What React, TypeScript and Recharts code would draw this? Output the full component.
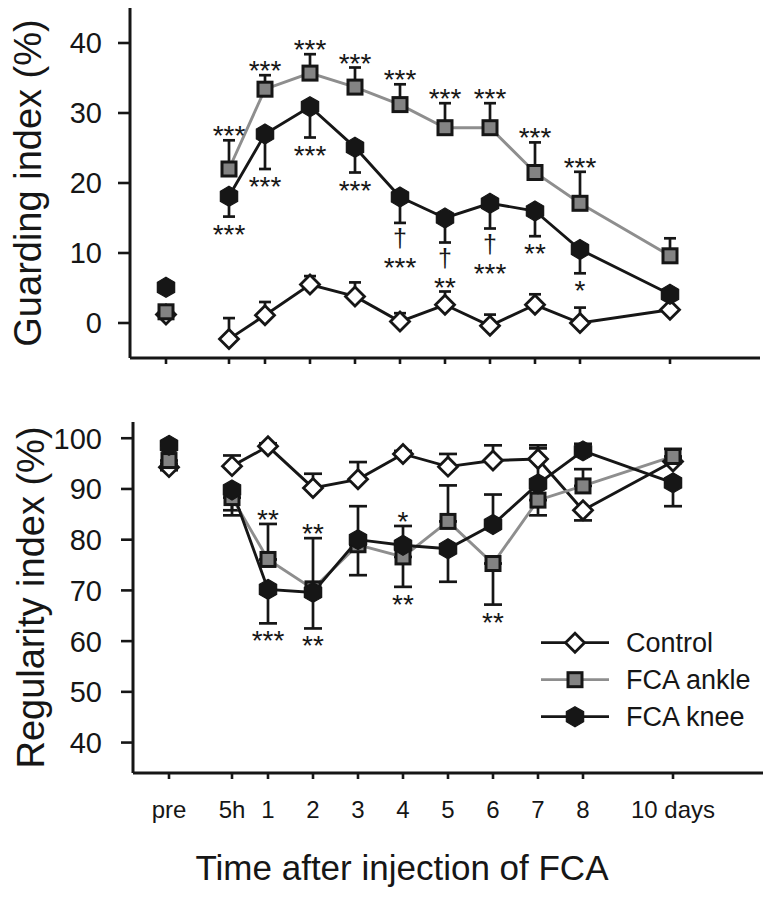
import React from 'react';
import { ComposedChart, Line, Scatter, XAxis, YAxis, ErrorBar, Legend, Label } from 'recharts';

const FONT = '"Liberation Sans", Arial, Helvetica, sans-serif';
const INK = '#161616';
const GREY_LINE = '#8e8e8e';
const GREY_FILL = '#838383';

// Time points (days after FCA injection); "pre" sits left of 5h
const timePoints = [-1.2, 0.2, 1, 2, 3, 4, 5, 6, 7, 8, 10];
const timeLabels = ['pre', '5h', '1', '2', '3', '4', '5', '6', '7', '8', '10 days'];

// ---- Guarding index (%) ----
const guardControl = [1.2, -2.3, 1.1, 5.5, 3.8, 0.2, 2.6, -0.4, 2.6, 0.0, 1.9];
const guardControlErrLow = [0, 0, 0, 0, 0, 0, 0, 0, 0, 0, 0];
const guardControlErrHigh = [0, 3.0, 1.9, 1.2, 2.0, 1.2, 1.9, 1.6, 1.5, 2.2, 0.6];
const guardAnkle = [1.6, 22.0, 33.4, 35.7, 33.7, 31.2, 27.9, 27.9, 21.5, 17.1, 9.6];
const guardAnkleErrLow = [0, 0, 0, 0, 0, 0, 0, 0, 0, 0, 0];
const guardAnkleErrHigh = [0.6, 4.1, 2.0, 2.7, 2.8, 2.9, 3.5, 3.5, 4.3, 4.5, 2.5];
const guardKnee = [5.1, 18.1, 27.0, 30.9, 25.1, 18.0, 15.0, 17.1, 16.0, 10.5, 4.1];
const guardKneeErrLow = [0.6, 2.9, 5.0, 4.4, 3.6, 3.7, 3.5, 3.6, 3.6, 3.4, 0];
const guardKneeErrHigh = [0, 0, 0, 0, 0, 0, 0, 0, 0, 0, 0];
const guardAnkleAbove = ['', '***', '***', '***', '***', '***', '***', '***', '***', '***', ''];
const guardKneeBelow = ['', '***', '***', '***', '***', '†|***', '†|**', '†|***', '**', '*', ''];
const guardTicks = [0, 10, 20, 30, 40];

// ---- Regularity index (%) ----
const regControl = [94.3, 94.5, 98.4, 90.2, 91.9, 96.9, 94.4, 95.6, 95.9, 85.8, 95.4];
const regControlErrLow = [0.6, 0, 0, 0, 0, 0, 0, 0, 0, 2.0, 0];
const regControlErrHigh = [0, 2.1, 0.6, 2.8, 3.4, 0.6, 2.5, 3.0, 2.7, 0, 0.6];
const regAnkle = [95.6, 88.3, 76.1, 70.3, 79.0, 76.6, 83.6, 75.3, 87.8, 90.6, 96.4];
const regAnkleErrLow = [0.6, 2.5, 0, 0, 6.0, 5.9, 0, 8.1, 3.0, 0, 0];
const regAnkleErrHigh = [0, 0, 7.0, 10.0, 0, 0, 7.1, 0, 0, 3.3, 1.5];
const regKnee = [98.6, 89.8, 70.2, 69.6, 80.0, 78.9, 78.2, 83.0, 91.0, 97.5, 91.2];
const regKneeErrLow = [0, 5.0, 6.7, 7.1, 0, 0, 6.5, 0, 0, 0, 4.6];
const regKneeErrHigh = [0.6, 0, 0, 0, 6.6, 3.8, 0, 5.9, 7.0, 1.4, 0];
const regAnkleAbove = ['', '', '**', '**', '', '', '', '', '', '', ''];
const regAnkleBelow = ['', '', '', '', '', '**', '', '**', '', '', ''];
const regKneeAbove = ['', '', '', '', '', '*', '', '', '', '', ''];
const regKneeBelow = ['', '', '***', '**', '', '', '', '', '', '', ''];
const regTicks = [40, 50, 60, 70, 80, 90, 100];

const SERIES = [
  { key: 'control', name: 'Control', line: INK, marker: 'diamond' },
  { key: 'ankle', name: 'FCA ankle', line: GREY_LINE, marker: 'square' },
  { key: 'knee', name: 'FCA knee', line: INK, marker: 'hex' },
];

type S = { values: number[]; low: number[]; high: number[] };

function makeRows(groups: Record<string, S>) {
  return timePoints.map((t, i) => {
    const row: any = { t };
    Object.keys(groups).forEach((k) => {
      const g = groups[k];
      const isPre = i === 0;
      const err = [g.low[i], g.high[i]];
      const hasErr = err[0] > 0 || err[1] > 0;
      row[k] = isPre ? null : g.values[i];
      row[k + 'Err'] = !isPre && hasErr ? err : null;
      row[k + 'Pre'] = isPre ? g.values[i] : null;
      row[k + 'PreErr'] = isPre && hasErr ? err : null;
    });
    return row;
  });
}

function makeMarks(g: S, texts: string[], side: 'above' | 'below') {
  return timePoints
    .map((t, i) => ({ t, y: side === 'above' ? g.values[i] + g.high[i] : g.values[i] - g.low[i], text: texts[i] }))
    .filter((d) => d.text);
}

const gC = { values: guardControl, low: guardControlErrLow, high: guardControlErrHigh };
const gA = { values: guardAnkle, low: guardAnkleErrLow, high: guardAnkleErrHigh };
const gK = { values: guardKnee, low: guardKneeErrLow, high: guardKneeErrHigh };
const rC = { values: regControl, low: regControlErrLow, high: regControlErrHigh };
const rA = { values: regAnkle, low: regAnkleErrLow, high: regAnkleErrHigh };
const rK = { values: regKnee, low: regKneeErrLow, high: regKneeErrHigh };

const guardRows = makeRows({ control: gC, ankle: gA, knee: gK });
const regRows = makeRows({ control: rC, ankle: rA, knee: rK });

const guardMarks = [
  { side: 'above', data: makeMarks(gA, guardAnkleAbove, 'above') },
  { side: 'below', data: makeMarks(gK, guardKneeBelow, 'below') },
];
const regMarks = [
  { side: 'above', data: makeMarks(rA, regAnkleAbove, 'above') },
  { side: 'below', data: makeMarks(rA, regAnkleBelow, 'below') },
  { side: 'above', data: makeMarks(rK, regKneeAbove, 'above') },
  { side: 'below', data: makeMarks(rK, regKneeBelow, 'below') },
];

const Marker = ({ kind, cx, cy }: { kind: string; cx: number; cy: number }) => {
  if (kind === 'diamond') {
    const r = 9.5;
    return (
      <path d={`M${cx},${cy - r}L${cx + r},${cy}L${cx},${cy + r}L${cx - r},${cy}Z`} fill="#fff" stroke={INK} strokeWidth={2.8} />
    );
  }
  if (kind === 'square') {
    const h = 7;
    return <rect x={cx - h} y={cy - h} width={2 * h} height={2 * h} fill={GREY_FILL} stroke={INK} strokeWidth={3} />;
  }
  const R = 10;
  const w = R * 0.866;
  return (
    <path
      d={`M${cx},${cy - R}L${cx + w},${cy - R / 2}L${cx + w},${cy + R / 2}L${cx},${cy + R}L${cx - w},${cy + R / 2}L${cx - w},${cy - R / 2}Z`}
      fill={INK}
      stroke={INK}
      strokeWidth={1.2}
    />
  );
};

const dotFor = (kind: string) => (props: any) => {
  const { cx, cy, index } = props;
  if (cx == null || cy == null || Number.isNaN(cx) || Number.isNaN(cy)) return <g key={`e-${kind}-${index}`} />;
  return (
    <g key={`${kind}-${index}`}>
      <Marker kind={kind} cx={cx} cy={cy} />
    </g>
  );
};

const AboveMark = (props: any) => {
  const { cx, cy, payload } = props;
  return (
    <text x={cx} y={cy + 5} textAnchor="middle" fontSize={28} fontFamily={FONT} fill={INK}>
      {payload.text}
    </text>
  );
};

const BelowMark = (props: any) => {
  const { cx, cy, payload } = props;
  const lines: string[] = String(payload.text).split('|');
  return (
    <g>
      {lines.map((l, j) => (
        <text
          key={j}
          x={cx}
          y={cy + (lines.length > 1 && j === 0 ? 24 : 27) + j * 27}
          textAnchor="middle"
          fontSize={l === '†' ? 25 : 28}
          fontFamily={FONT}
          fill={INK}
        >
          {l}
        </text>
      ))}
    </g>
  );
};

const TimeTick = (props: any) => {
  const { x, y, payload } = props;
  const i = timePoints.indexOf(payload.value);
  return (
    <text x={x} y={y} dy="0.71em" textAnchor="middle" fontSize={24} fontFamily={FONT} fill={INK}>
      {i >= 0 ? timeLabels[i] : ''}
    </text>
  );
};

const ValueTick = (props: any) => {
  const { x, y, payload } = props;
  return (
    <text x={x} y={y} dy="0.36em" textAnchor="end" fontSize={29} fontFamily={FONT} fill={INK}>
      {payload.value}
    </text>
  );
};

const NoTick = () => <g />;

const LegendContent = (props: any) => {
  const items = (props.payload || []).filter((p: any) => p.type !== 'none');
  return (
    <svg width={237} height={120} style={{ overflow: 'visible' }}>
      {items.map((p: any, i: number) => {
        const s = SERIES.find((q) => q.name === p.value) || SERIES[0];
        const y = 22.7 + i * 37;
        return (
          <g key={s.key}>
            <line x1={6} x2={74} y1={y} y2={y} stroke={s.line} strokeWidth={2.8} />
            <Marker kind={s.marker} cx={40} cy={y} />
            <text x={91} y={y + 9.5} fontSize={27} fontFamily={FONT} fill={INK}>
              {p.value}
            </text>
          </g>
        );
      })}
    </svg>
  );
};

const yTitle = (text: string, dx: number) => (props: any) => {
  const vb = props.viewBox || {};
  const x = (vb.x || 0) + dx;
  const y = (vb.y || 0) + (vb.height || 0) / 2;
  return (
    <text x={x} y={y} transform={`rotate(-90 ${x} ${y})`} textAnchor="middle" fontSize={38} fontFamily={FONT} fill={INK}>
      {text}
    </text>
  );
};

const xTitle = (props: any) => {
  const vb = props.viewBox || {};
  const x = (vb.x || 0) + (vb.width || 0) / 2 - 46;
  const y = (vb.y || 0) + 107;
  return (
    <text x={x} y={y} textAnchor="middle" fontSize={35} fontFamily={FONT} fill={INK}>
      Time after injection of FCA
    </text>
  );
};

function renderSeries(capHalf: number) {
  const main = SERIES.map((s) => (
    <Line
      key={s.key}
      dataKey={s.key}
      name={s.name}
      stroke={s.line}
      strokeWidth={2.9}
      dot={dotFor(s.marker)}
      activeDot={false}
      isAnimationActive={false}
      connectNulls={false}
    >
      <ErrorBar dataKey={`${s.key}Err`} width={capHalf} stroke={INK} strokeWidth={2.7} direction="y" />
    </Line>
  ));
  const pre = SERIES.map((s) => (
    <Line
      key={s.key + 'Pre'}
      dataKey={`${s.key}Pre`}
      name={`${s.name} pre`}
      legendType="none"
      stroke="none"
      dot={dotFor(s.marker)}
      activeDot={false}
      isAnimationActive={false}
    >
      <ErrorBar dataKey={`${s.key}PreErr`} width={capHalf} stroke={INK} strokeWidth={2.7} direction="y" />
    </Line>
  ));
  return [...main, ...pre];
}

function renderMarks(marks: { side: string; data: any[] }[]) {
  return marks.map((m, i) => (
    <Scatter
      key={`mark-${i}`}
      data={m.data}
      dataKey="y"
      legendType="none"
      isAnimationActive={false}
      shape={m.side === 'above' ? AboveMark : BelowMark}
    />
  ));
}

const axisLine = { stroke: INK, strokeWidth: 3 };
const tickLine = { stroke: INK, strokeWidth: 2.6 };

export default function App() {
  return (
    <div style={{ position: 'absolute', left: 0, top: 0, width: 772, height: 898, background: '#fff' }}>
      <div style={{ position: 'absolute', left: 0, top: 0 }}>
        <ComposedChart width={772} height={380} data={guardRows} margin={{ top: 8, right: 12, bottom: 0, left: 0 }}>
          <XAxis
            dataKey="t"
            type="number"
            domain={[-2, 12]}
            ticks={timePoints}
            interval={0}
            allowDataOverflow
            height={22}
            tickSize={6}
            axisLine={axisLine}
            tickLine={tickLine}
            tick={NoTick}
          />
          <YAxis
            type="number"
            domain={[-5, 45]}
            ticks={guardTicks}
            allowDataOverflow
            width={130}
            tickSize={12}
            tickMargin={16}
            axisLine={axisLine}
            tickLine={tickLine}
            tick={ValueTick}
          >
            <Label content={yTitle('Guarding index (%)', 41)} />
          </YAxis>
          {renderSeries(6)}
          {renderMarks(guardMarks)}
        </ComposedChart>
      </div>
      <div style={{ position: 'absolute', left: 0, top: 402 }}>
        <ComposedChart width={772} height={496} data={regRows} margin={{ top: 20, right: 9, bottom: 0, left: 3 }}>
          <XAxis
            dataKey="t"
            type="number"
            domain={[-2, 12]}
            ticks={timePoints}
            interval={0}
            allowDataOverflow
            height={125}
            tickSize={6}
            tickMargin={22}
            axisLine={axisLine}
            tickLine={tickLine}
            tick={TimeTick}
          >
            <Label content={xTitle} />
          </XAxis>
          <YAxis
            type="number"
            domain={[34, 103.2]}
            ticks={regTicks}
            allowDataOverflow
            width={130}
            tickSize={12}
            tickMargin={19}
            axisLine={axisLine}
            tickLine={tickLine}
            tick={ValueTick}
          >
            <Label content={yTitle('Regularity index (%)', 41)} />
          </YAxis>
          {renderSeries(9)}
          {renderMarks(regMarks)}
          <Legend
            layout="vertical"
            align="center"
            verticalAlign="middle"
            wrapperStyle={{ left: 535, top: 218, width: 237, height: 120 }}
            content={LegendContent}
          />
        </ComposedChart>
      </div>
    </div>
  );
}
